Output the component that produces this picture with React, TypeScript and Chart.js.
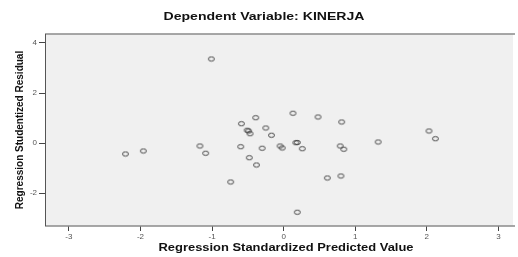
import React, { useEffect, useRef } from "react";
import { Chart, registerables } from "chart.js";

Chart.register(...registerables);

const chartTitle = "Dependent Variable: KINERJA";
const xTitle = "Regression Standardized Predicted Value";
const yTitle = "Regression Studentized Residual";
const xTicks = [-3, -2, -1, 0, 1, 2, 3];
const yTicks = [-2, 0, 2, 4];

const predicted = [
  -1.01, 0.13, -0.39, -0.59, -0.51, -0.49, -0.47, -0.25, -0.17, -2.21, -1.96,
  -1.17, -1.09, -0.6, -0.3, -0.05, -0.02, 0.17, 0.19, 0.26, -0.48, -0.38, -0.74,
  0.19, 0.48, 0.81, 0.79, 0.84, 1.32, 0.61, 0.8, 2.03, 2.12,
];
const residual = [
  3.36, 1.19, 1.01, 0.77, 0.51, 0.48, 0.37, 0.6, 0.31, -0.44, -0.32, -0.12,
  -0.41, -0.15, -0.21, -0.12, -0.2, 0.01, 0.02, -0.23, -0.59, -0.88, -1.56,
  -2.77, 1.04, 0.84, -0.12, -0.25, 0.04, -1.4, -1.32, 0.48, 0.17,
];

function makeMarker(): HTMLCanvasElement {
  const c = document.createElement("canvas");
  c.width = 9;
  c.height = 7;
  const ctx = c.getContext("2d")!;
  ctx.strokeStyle = "#444444";
  ctx.lineWidth = 1;
  ctx.beginPath();
  ctx.ellipse(4.5, 3.5, 3, 2.1, 0, 0, Math.PI * 2);
  ctx.stroke();
  return c;
}

function wideText(ctx: CanvasRenderingContext2D, text: string, cx: number, cy: number, width: number) {
  const w = ctx.measureText(text).width;
  ctx.save();
  ctx.translate(cx, cy);
  ctx.scale(width / w, 1);
  ctx.fillText(text, 0, 0);
  ctx.restore();
}

export default function App() {
  const ref = useRef<HTMLCanvasElement>(null);
  useEffect(() => {
    const marker = makeMarker();
    const points = predicted.map((x, i) => ({ x, y: residual[i] }));
    const framePlugin = {
      id: "frame",
      beforeDraw(chart: any) {
        const { ctx, chartArea: a } = chart;
        ctx.save();
        ctx.fillStyle = "#f0f0f0";
        ctx.fillRect(a.left, a.top, a.right - a.left, a.bottom - a.top);
        ctx.restore();
      },
      afterDraw(chart: any) {
        const { ctx, chartArea: a } = chart;
        ctx.save();
        ctx.strokeStyle = "#8a8a8a";
        ctx.lineWidth = 1.5;
        ctx.beginPath();
        ctx.moveTo(a.left, a.top);
        ctx.lineTo(a.right + 2, a.top);
        ctx.moveTo(a.left, a.bottom);
        ctx.lineTo(a.right + 2, a.bottom);
        ctx.stroke();
        ctx.strokeStyle = "#555555";
        ctx.lineWidth = 1;
        ctx.beginPath();
        ctx.moveTo(a.left + 0.5, a.top);
        ctx.lineTo(a.left + 0.5, a.bottom);
        ctx.stroke();
        ctx.fillStyle = "#111111";
        ctx.textAlign = "center";
        ctx.textBaseline = "middle";
        ctx.font = "bold 10px Arial, 'Liberation Sans', sans-serif";
        wideText(ctx, chartTitle, 264, 17, 201);
        wideText(ctx, xTitle, 286, 248, 255);
        ctx.translate(20, 130);
        ctx.rotate(-Math.PI / 2);
        ctx.fillText(yTitle, 0, 0);
        ctx.restore();
      },
    };
    const chart = new Chart(ref.current!, {
      type: "scatter",
      data: {
        datasets: [
          {
            data: points,
            pointStyle: marker as any,
            pointRadius: 4,
            pointHoverRadius: 4,
          },
        ],
      },
      options: {
        animation: false,
        responsive: false,
        layout: { padding: { top: 34, right: 1, left: 0, bottom: 0 } },
        plugins: { legend: { display: false }, tooltip: { enabled: false } },
        scales: {
          x: {
            type: "linear",
            min: -3.334,
            max: 3.204,
            afterBuildTicks: (s: any) => {
              s.ticks = xTicks.map((v) => ({ value: v }));
            },
            afterFit: (s: any) => {
              s.height = 31;
            },
            grid: {
              drawOnChartArea: false,
              drawTicks: true,
              tickLength: 5,
              color: "#444444",
            },
            border: { display: false },
            ticks: {
              color: "#555555",
              font: { size: 8, family: "Arial, 'Liberation Sans', sans-serif" },
              padding: 1,
              maxRotation: 0,
            },
          },
          y: {
            type: "linear",
            min: -3.32,
            max: 4.36,
            afterBuildTicks: (s: any) => {
              s.ticks = yTicks.map((v) => ({ value: v }));
            },
            afterFit: (s: any) => {
              s.width = 45;
            },
            grid: {
              drawOnChartArea: false,
              drawTicks: true,
              tickLength: 6,
              color: "#444444",
            },
            border: { display: false },
            ticks: {
              color: "#555555",
              font: { size: 8, family: "Arial, 'Liberation Sans', sans-serif" },
              padding: 2,
            },
          },
        },
      },
      plugins: [framePlugin],
    });
    return () => chart.destroy();
  }, []);
  return (
    <div style={{ position: "fixed", left: 0, top: 0, width: 518, height: 257, background: "#fff" }}>
      <canvas ref={ref} width={518} height={257} style={{ width: 518, height: 257 }} />
    </div>
  );
}
